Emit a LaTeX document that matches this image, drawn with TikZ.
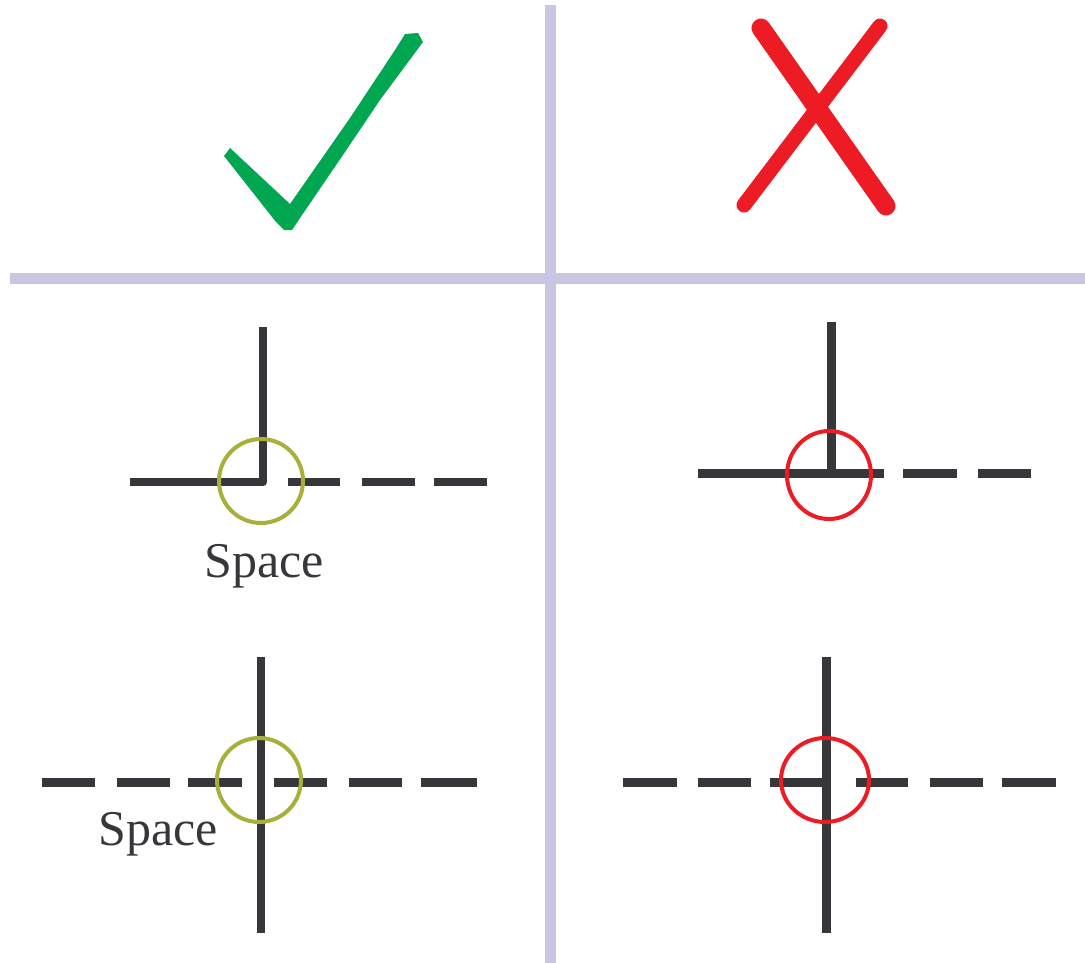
\documentclass[tikz,border=0pt]{standalone}
\usepackage{fontspec}
\setmainfont{Liberation Serif}
\definecolor{gridc}{HTML}{C8C6E2}
\definecolor{inkc}{HTML}{37363B}
\definecolor{okc}{HTML}{00A650}
\definecolor{badc}{HTML}{ED1C24}
\definecolor{olivec}{HTML}{A8AF3A}
\tikzset{
  gridline/.style={draw=gridc,line width=11pt},
  wall/.style={draw=inkc,line width=8.5pt},
  okring/.style={draw=olivec,line width=4pt},
  badring/.style={draw=badc,line width=4pt},
  lbl/.style={text=inkc,font=\fontsize{50}{50}\selectfont,anchor=base,inner sep=0pt}
}
\begin{document}
\begin{tikzpicture}[x=1pt,y=-1pt]
\useasboundingbox (0,0) rectangle (1085,963);
% grid
\coordinate (gl) at (10,278); \coordinate (gr) at (1085,278);
\coordinate (gt) at (550,5); \coordinate (gb) at (550,963);
\draw[gridline] (gl) -- (gr);
\draw[gridline] (gt) -- (gb);
% check mark
\fill[okc] (224,156) -- (230,148) -- (290,204) -- (350,118) -- (395,50) -- (405,34) -- (418,33) -- (423,42)
  -- (380,100) -- (345,152) -- (300,218) -- (292,230) -- (284,230) -- (276,222) -- cycle;
% cross
\draw[badc,line width=19pt,line cap=round] (761,28) -- (886,206);
\draw[badc,line width=15pt,line cap=round] (880,26) -- (744,205);
% panel 1
\draw[wall,line join=round] (263,327) -- (263,482) -- (130,482);
\foreach \a/\b in {288/340,362/415,434/487} \draw[wall] (\a,482) -- (\b,482);
\draw[okring] (261,481) circle (42);
\node[lbl] (s1) at (264,577) {Space};
% panel 2
\draw[wall] (831.5,322) -- (831.5,474);
\draw[wall] (698,473.5) -- (884,473.5);
\foreach \a/\b in {903/957,978/1031} \draw[wall] (\a,473.5) -- (\b,473.5);
\draw[badring] (829,475) ellipse (42 and 44);
% panel 3
\draw[wall] (261,657) -- (261,933);
\foreach \a/\b in {42/95,117/170,188/242,274/327,349/402,421/477} \draw[wall] (\a,782.5) -- (\b,782.5);
\draw[okring] (259,780) circle (42);
\node[lbl] (s2) at (158,845) {Space};
% panel 4
\draw[wall] (826.5,657) -- (826.5,933);
\foreach \a/\b in {623/677,698/751,770/827,856/908,930/983,1002/1056} \draw[wall] (\a,782.5) -- (\b,782.5);
\draw[badring] (825,780) ellipse (44 and 42);
\end{tikzpicture}
\end{document}
